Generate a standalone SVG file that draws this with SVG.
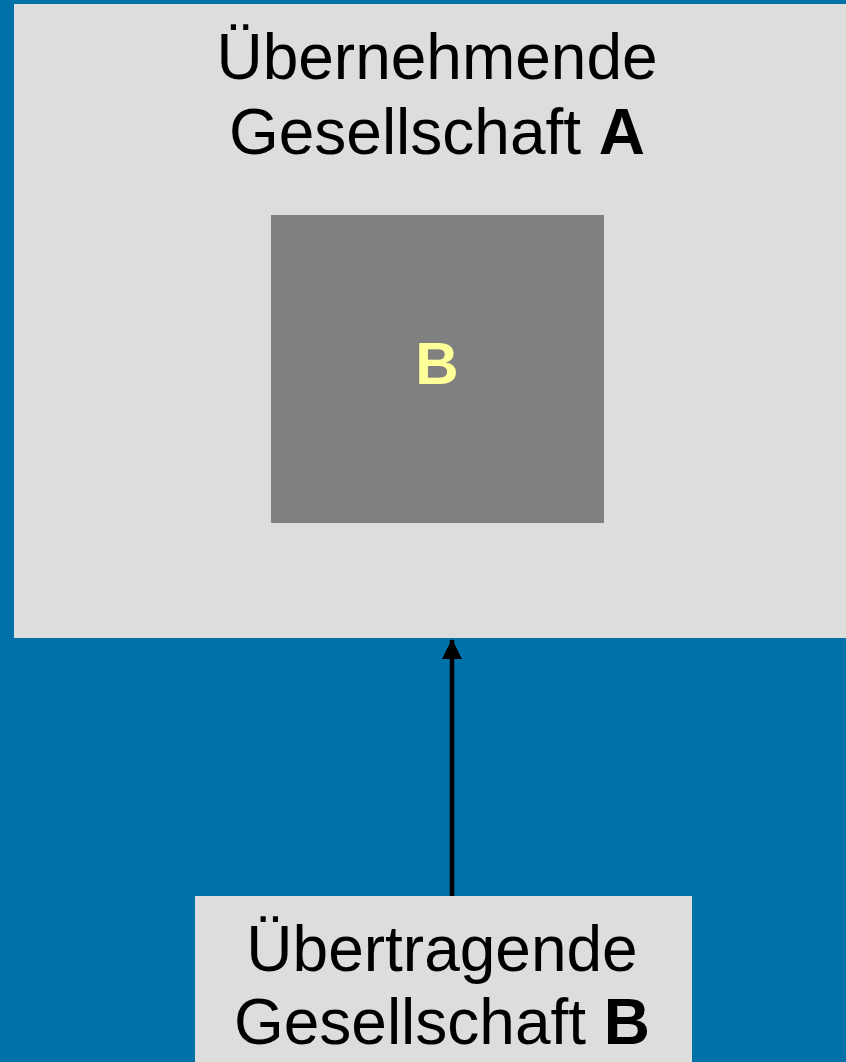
<svg xmlns="http://www.w3.org/2000/svg" width="846" height="1062" viewBox="0 0 846 1062">
<style>
.lbl{font-family:"Liberation Sans",Arial,sans-serif;font-size:64px;fill:#000;text-anchor:middle}
.b{font-weight:bold}
</style>
<defs>
<marker id="ah" markerWidth="4.5" markerHeight="4.5" refX="4.3" refY="2.25" orient="auto" markerUnits="strokeWidth">
<path d="M0,0 L4.5,2.25 L0,4.5 Z" fill="#000"/>
</marker>
</defs>
<rect width="846" height="1062" fill="#0070A8"/>
<g id="nodeA">
<rect x="14" y="4" width="840" height="634" fill="#DDDDDD"/>
<text class="lbl" x="437" y="79">Übernehmende</text>
<text class="lbl" x="437" y="154">Gesellschaft <tspan class="b">A</tspan></text>
</g>
<g id="nodeBinner">
<rect x="271" y="215" width="333" height="308" fill="#808080"/>
<text x="437" y="384" style="font-family:'Liberation Sans',Arial,sans-serif;font-size:60px;font-weight:bold;fill:#FFFF99;text-anchor:middle">B</text>
</g>
<g id="nodeB">
<rect x="195" y="896" width="497" height="180" fill="#DDDDDD"/>
<text class="lbl" x="442" y="971">Übertragende</text>
<text class="lbl" x="442" y="1044">Gesellschaft <tspan class="b">B</tspan></text>
</g>
<g id="connectors">
<line x1="452" y1="896" x2="452" y2="640" stroke="#000" stroke-width="4.5" marker-end="url(#ah)"/>
</g>
</svg>
